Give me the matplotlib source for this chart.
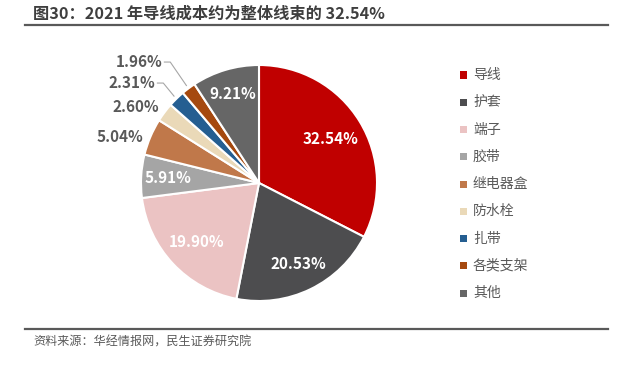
import matplotlib
matplotlib.use("Agg")
import matplotlib.pyplot as plt
from matplotlib.lines import Line2D
from matplotlib.patches import Rectangle
import numpy as np

plt.rcParams['font.family'] = ['Noto Sans CJK SC', 'DejaVu Sans']

# ---- data ----
categories = ['导线', '护套', '端子', '胶带', '继电器盒', '防水栓', '扎带', '各类支架', '其他']
values = [32.54, 20.53, 19.90, 5.91, 5.04, 2.60, 2.31, 1.96, 9.21]
colors = ['#C00000', '#4D4D4F', '#EBC3C3', '#A5A5A5', '#C0784A', '#EAD9B8',
          '#255E91', '#A5490F', '#666666']
title = '图30：2021 年导线成本约为整体线束的 32.54%'
source = '资料来源：华经情报网，民生证券研究院'

# ---- styles / positions ----
W, H = 634, 365
fig = plt.figure(figsize=(W / 100, H / 100), dpi=100)
cx, cy, R = 259, 183, 118
ax = fig.add_axes([(cx - R) / W, (H - cy - R) / H, 2 * R / W, 2 * R / H])

wedges, _ = ax.pie(values, colors=colors, startangle=90, counterclock=False,
                   radius=1.0, wedgeprops=dict(edgecolor='white', linewidth=1.5))
ax.set_xlim(-1, 1)
ax.set_ylim(-1, 1)
ax.set_aspect('equal')
ax.axis('off')

# inside label radial distance (None -> outside label)
inside_r = [0.71, 0.76, 0.73, 0.77, None, None, None, None, 0.79]
# outside label text anchor (right edge, center) in pie units
outside_pos = {4: (-0.983, 0.39), 5: (-0.847, 0.644), 6: (-0.881, 0.847), 7: (-0.822, 1.025)}
leader = {6, 7}

for i, (w, v) in enumerate(zip(wedges, values)):
    mid = np.deg2rad((w.theta1 + w.theta2) / 2)
    txt = f'{v:.2f}%'
    if inside_r[i] is not None:
        r = inside_r[i]
        ax.text(r * np.cos(mid), r * np.sin(mid), txt, ha='center', va='center',
                color='white', fontsize=11, fontweight='bold')
    else:
        tx, ty = outside_pos[i]
        ax.text(tx, ty, txt, ha='right', va='center', color='#595959',
                fontsize=11, fontweight='bold', clip_on=False)
        if i in leader:
            ex, ey = 1.03 * np.cos(mid), 1.03 * np.sin(mid)
            ax.plot([tx + 0.02, tx + 0.07, ex], [ty, ty, ey], color='#A6A6A6',
                    lw=0.8, clip_on=False)

# legend (manual)
lx, ly0, dy = 460, 75, 27.25
for i, (c, lab) in enumerate(zip(colors, categories)):
    y = ly0 + i * dy
    fig.add_artist(Rectangle((lx / W, (H - y - 3.5) / H), 7 / W, 7 / H,
                             facecolor=c, edgecolor='none', transform=fig.transFigure))
    fig.text(473 / W, (H - y) / H, lab, ha='left', va='center', fontsize=10,
             color='#595959')

# title and rules
fig.text(33 / W, (H - 14) / H, title, ha='left', va='center', fontsize=11.7,
         fontweight='bold', color='#3F3F3F')
fig.add_artist(Line2D([25 / W, 608 / W], [(H - 25) / H] * 2, color='#595959',
                      lw=1.6, transform=fig.transFigure))
fig.add_artist(Line2D([25 / W, 608 / W], [(H - 329) / H] * 2, color='#595959',
                      lw=1.6, transform=fig.transFigure))
fig.text(33 / W, (H - 342) / H, source, ha='left', va='center', fontsize=8.7,
         color='#595959')

fig.savefig('out.png', dpi=100)
